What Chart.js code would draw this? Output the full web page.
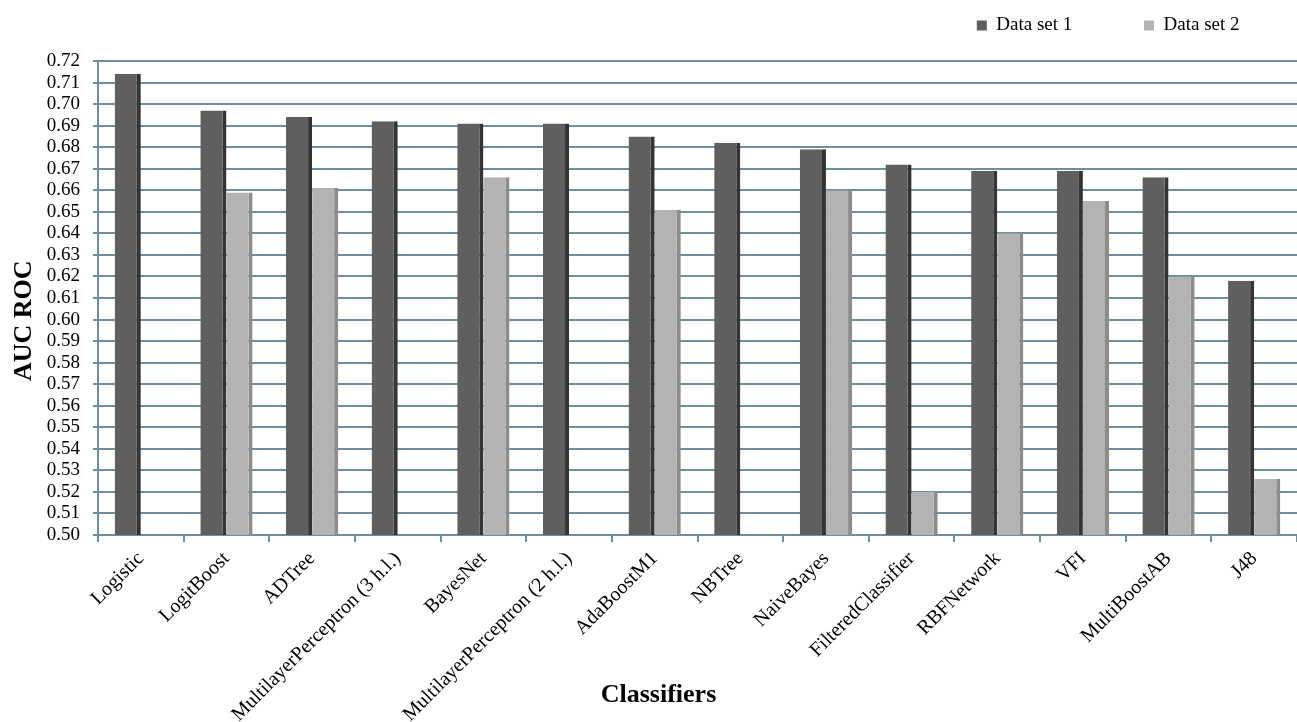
<!DOCTYPE html>
<html>
<head>
<meta charset="utf-8">
<script src="https://cdn.jsdelivr.net/npm/chart.js@4.4.1/dist/chart.umd.min.js"></script>
<style>
  html, body { margin: 0; padding: 0; background: #fff; }
  #wrap { width: 1297px; height: 722px; position: relative; }
</style>
</head>
<body>
<div id="wrap"><canvas id="aucChart"></canvas></div>
<script>
const classifiers = [
  "Logistic", "LogitBoost", "ADTree", "MultilayerPerceptron (3 h.l.)", "BayesNet",
  "MultilayerPerceptron (2 h.l.)", "AdaBoostM1", "NBTree", "NaiveBayes",
  "FilteredClassifier", "RBFNetwork", "VFI", "MultiBoostAB", "J48"
];
const dataSet1 = [0.714, 0.697, 0.694, 0.692, 0.691, 0.691, 0.685, 0.682, 0.679, 0.672, 0.669, 0.669, 0.666, 0.618];
const dataSet2 = [null, 0.659, 0.661, null, 0.666, null, 0.651, null, 0.660, 0.520, 0.640, 0.655, 0.620, 0.526];
const seriesNames = ["Data set 1", "Data set 2"];
const yMin = 0.50;
const yMax = 0.72;
const yStep = 0.01;

const serif = "'Liberation Serif', 'Times New Roman', serif";
const gridBlue = "#6f8f9b";

// trailing blanks nudge legend items / axis titles off the centred spots
const legendTail = ["             ", "          "];
const xTitleTail = "            ";
const yTitleTail = "       ";

// keep the legend short but leave a gap above the plot
const legendHeight = {
  id: "legendHeight",
  beforeInit(chart) {
    const fit = chart.legend.fit;
    chart.legend.fit = function () {
      fit.bind(chart.legend)();
      this.height += 16;
    };
  }
};

const ctx = document.getElementById("aucChart").getContext("2d");
new Chart(ctx, {
  type: "bar",
  data: {
    labels: classifiers,
    datasets: [
      {
        label: seriesNames[0],
        data: dataSet1,
        backgroundColor: "#5f5f5f",
        borderColor: "#343434",
        borderWidth: { top: 0, right: 4, bottom: 0, left: 0 },
        borderSkipped: false
      },
      {
        label: seriesNames[1],
        data: dataSet2,
        backgroundColor: "#b3b3b3",
        borderColor: "#8c8c8c",
        borderWidth: { top: 0, right: 4, bottom: 0, left: 0 },
        borderSkipped: false
      }
    ]
  },
  plugins: [legendHeight],
  options: {
    responsive: true,
    maintainAspectRatio: false,
    animation: false,
    datasets: { bar: { categoryPercentage: 0.61, barPercentage: 1.0 } },
    layout: { padding: { top: 6, right: 0, bottom: 0, left: 0 } },
    plugins: {
      legend: {
        position: "top",
        align: "end",
        labels: {
          font: { family: serif, size: 19 },
          color: "#000",
          boxWidth: 10,
          boxHeight: 10,
          padding: 10,
          generateLabels(chart) {
            return chart.data.datasets.map((ds, i) => ({
              text: ds.label + legendTail[i],
              fillStyle: ds.backgroundColor,
              strokeStyle: ds.backgroundColor,
              lineWidth: 0,
              hidden: false,
              datasetIndex: i,
              fontColor: "#000"
            }));
          }
        }
      },
      tooltip: { enabled: false }
    },
    scales: {
      x: {
        grid: {
          drawOnChartArea: false,
          drawTicks: true,
          tickLength: 7,
          color: gridBlue,
          lineWidth: 2
        },
        border: { color: gridBlue, width: 2 },
        ticks: {
          autoSkip: false,
          minRotation: 45,
          maxRotation: 45,
          padding: 5,
          color: "#000",
          font: { family: serif, size: 20 }
        },
        title: {
          display: true,
          text: "Classifiers" + xTitleTail,
          color: "#000",
          font: { family: serif, size: 26, weight: "bold", lineHeight: 1.2 },
          padding: { top: 0, bottom: 11 }
        },
        afterFit(scale) { scale.height = 187; }
      },
      y: {
        min: yMin,
        max: yMax,
        grid: {
          color: gridBlue,
          lineWidth: 2,
          tickLength: 5
        },
        border: { color: gridBlue, width: 2 },
        ticks: {
          stepSize: yStep,
          autoSkip: false,
          padding: 13,
          color: "#000",
          font: { family: serif, size: 19 },
          callback: (v) => Number(v).toFixed(2)
        },
        title: {
          display: true,
          text: "AUC ROC" + yTitleTail,
          color: "#000",
          font: { family: serif, size: 26, weight: "bold", lineHeight: 1.2 },
          padding: { top: 9, bottom: 0 }
        },
        afterFit(scale) { scale.width = 98; }
      }
    }
  }
});
</script>
</body>
</html>
